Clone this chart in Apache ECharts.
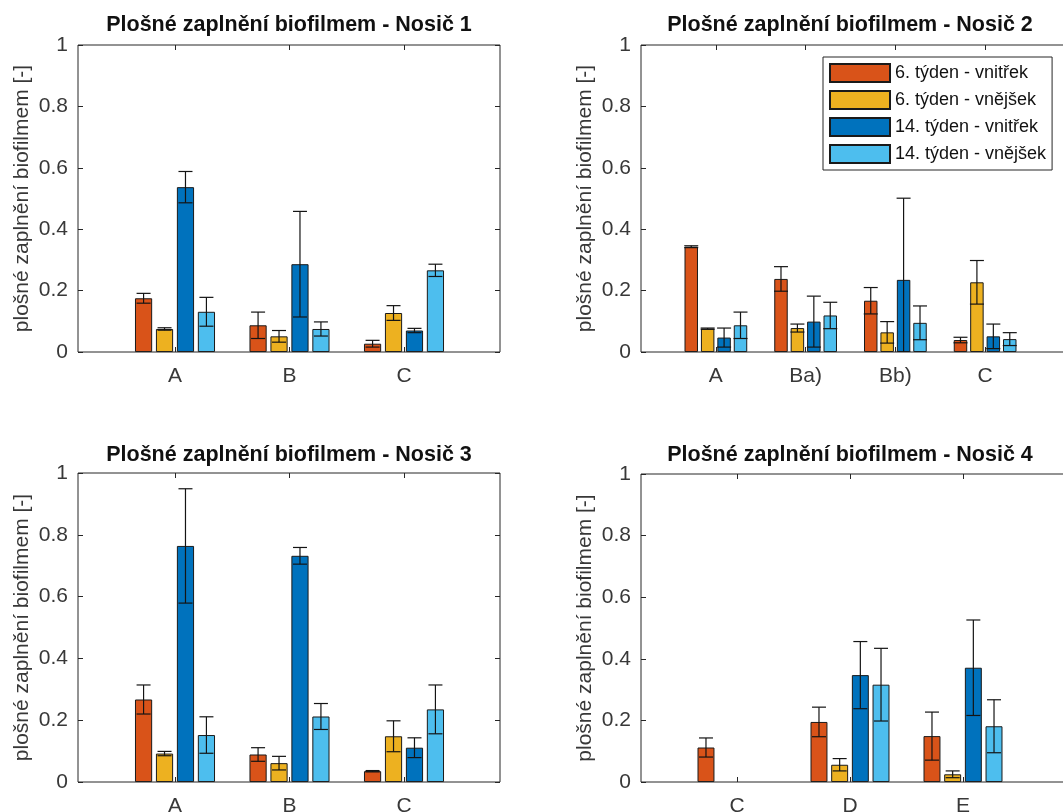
<!DOCTYPE html>
<html>
<head>
<meta charset="utf-8">
<script src="https://cdn.jsdelivr.net/npm/echarts@6/dist/echarts.min.js"></script>
<style>
html,body{margin:0;padding:0;background:#fff;}
#c{width:1063px;height:812px;}
</style>
</head>
<body>
<div id="c"></div>
<script>
// ---------- DATA ----------
const seriesNames = ['6. týden - vnitřek', '6. týden - vnějšek', '14. týden - vnitřek', '14. týden - vnějšek'];
const titles = ['Plošné zaplnění biofilmem - Nosič 1', 'Plošné zaplnění biofilmem - Nosič 2',
                'Plošné zaplnění biofilmem - Nosič 3', 'Plošné zaplnění biofilmem - Nosič 4'];
const yAxisName = 'plošné zaplnění biofilmem [-]';

const categories1 = ['A', 'B', 'C'];
const categories2 = ['A', 'Ba)', 'Bb)', 'C'];
const categories3 = ['A', 'B', 'C'];
const categories4 = ['C', 'D', 'E'];

// rows: series (6 in, 6 out, 14 in, 14 out); columns: categories
const p1Mean = [[0.175, 0.087, 0.027], [0.075, 0.051, 0.127], [0.537, 0.286, 0.070], [0.131, 0.075, 0.266]];
const p1Err  = [[0.016, 0.043, 0.011], [0.004, 0.019, 0.024], [0.051, 0.172, 0.007], [0.047, 0.023, 0.020]];

const p2Mean = [[0.343, 0.238, 0.167, 0.039], [0.076, 0.078, 0.064, 0.227], [0.047, 0.099, 0.235, 0.051], [0.087, 0.119, 0.095, 0.042]];
const p2Err  = [[0.003, 0.040, 0.043, 0.009], [0.002, 0.013, 0.035, 0.071], [0.031, 0.083, 0.266, 0.040], [0.043, 0.043, 0.055, 0.021]];

const p3Mean = [[0.267, 0.089, 0.035], [0.092, 0.061, 0.148], [0.764, 0.732, 0.111], [0.152, 0.212, 0.235]];
const p3Err  = [[0.047, 0.022, 0.002], [0.007, 0.022, 0.050], [0.185, 0.027, 0.032], [0.059, 0.042, 0.079]];

const p4Mean = [[0.112, 0.195, 0.149], [null, 0.056, 0.025], [null, 0.347, 0.371], [null, 0.316, 0.181]];
const p4Err  = [[0.031, 0.048, 0.078], [null, 0.020, 0.011], [null, 0.109, 0.155], [null, 0.118, 0.086]];

const yTicks = [0, 0.2, 0.4, 0.6, 0.8, 1];

// ---------- STYLE / LAYOUT ----------
const colors = ['#D95319', '#EDB120', '#0072BD', '#4DBEEE'];
const FONT = '"Liberation Sans", Arial, Helvetica, sans-serif';
const TXT = '#383838';
const BAR_W = 0.15, BAR_GAP = 0.22;
const PITCH = BAR_W * (1 + BAR_GAP);

const panels = [
  {outer:{left:78, top:45, width:422, height:307}, inner:{left:117.75, width:343.5}, tx:289, ty:14, cats:categories1, mean:p1Mean, err:p1Err},
  {outer:{left:641, top:45, width:440, height:307}, inner:{left:671, width:359}, tx:850, ty:14, cats:categories2, mean:p2Mean, err:p2Err},
  {outer:{left:78, top:473, width:422, height:309}, inner:{left:117.75, width:343.5}, tx:289, ty:444, cats:categories3, mean:p3Mean, err:p3Err},
  {outer:{left:641, top:474, width:440, height:308}, inner:{left:680.5, width:339}, tx:850, ty:444, cats:categories4, mean:p4Mean, err:p4Err}
];

const grid = [], xAxis = [], yAxis = [], series = [], title = [];

panels.forEach((p, k) => {
  const og = grid.length;
  grid.push({left:p.outer.left, top:p.outer.top, width:p.outer.width, height:p.outer.height,
             outerBoundsMode:'none', containLabel:false,
             show:true, borderColor:'#262626', borderWidth:1, backgroundColor:'transparent', z:3});
  const ig = grid.length;
  grid.push({left:p.inner.left, top:p.outer.top, width:p.inner.width, height:p.outer.height,
             outerBoundsMode:'none', containLabel:false});

  // outer axes (frame, y ticks)
  xAxis.push({gridIndex:og, type:'value', min:0, max:1, show:false});
  yAxis.push({gridIndex:og, type:'value', min:yTicks[0], max:yTicks[yTicks.length-1], interval:0.2,
    axisLine:{show:false}, splitLine:{show:false},
    axisTick:{show:true, inside:true, length:5, lineStyle:{color:'#262626'}},
    axisLabel:{fontSize:21, color:TXT, fontFamily:FONT, margin:10},
    name:yAxisName, nameLocation:'middle', nameGap:45,
    nameTextStyle:{fontSize:21, color:TXT, fontFamily:FONT}});
  yAxis.push({gridIndex:og, type:'value', position:'right', min:0, max:1, interval:0.2,
    axisLine:{show:false}, splitLine:{show:false}, axisLabel:{show:false},
    axisTick:{show:true, inside:true, length:5, lineStyle:{color:'#262626'}}});

  // inner axes (categories, bars)
  const ixi = xAxis.length;
  xAxis.push({gridIndex:ig, type:'category', data:p.cats, position:'bottom',
    axisLine:{show:false}, splitLine:{show:false},
    axisTick:{show:true, inside:true, alignWithLabel:true, length:5, lineStyle:{color:'#262626'}},
    axisLabel:{fontSize:21, color:TXT, fontFamily:FONT, margin:14}});
  xAxis.push({gridIndex:ig, type:'category', data:p.cats, position:'top',
    axisLine:{show:false}, axisLabel:{show:false},
    axisTick:{show:true, inside:true, alignWithLabel:true, length:5, lineStyle:{color:'#262626'}}});
  const iyi = yAxis.length;
  yAxis.push({gridIndex:ig, type:'value', min:0, max:1, show:false});

  title.push({text:titles[k], left:p.tx, top:p.ty, textAlign:'center', padding:0,
    textStyle:{fontSize:21.5, fontWeight:'bold', color:'#111', fontFamily:FONT}});

  for (let s = 0; s < 4; s++) {
    series.push({type:'bar', name:seriesNames[s], xAxisIndex:ixi, yAxisIndex:iyi,
      data:p.mean[s], barWidth:(BAR_W*100)+'%', barGap:(BAR_GAP*100)+'%',
      itemStyle:{color:colors[s], borderColor:'#1a1a1a', borderWidth:1}, silent:true, z:2});
  }
  for (let s = 0; s < 4; s++) {
    const data = [];
    p.mean[s].forEach((v, i) => { if (v != null && p.err[s][i] != null) data.push([i, v, p.err[s][i]]); });
    const off = (s - 1.5) * PITCH;
    series.push({type:'custom', name:seriesNames[s], xAxisIndex:ixi, yAxisIndex:iyi, data:data,
      silent:true, z:4, clip:true, encode:{x:0, y:1},
      renderItem:function(params, api){
        const ci = api.value(0), v = api.value(1), e = api.value(2);
        const band = api.size([1, 0])[0];
        const x = api.coord([ci, v])[0] + off * band;
        const yt = api.coord([ci, v + e])[1];
        const yb = api.coord([ci, Math.max(0, v - e)])[1];
        const h = 7;
        const st = {stroke:'#141414', lineWidth:1.2};
        return {type:'group', children:[
          {type:'line', shape:{x1:x, y1:yt, x2:x, y2:yb}, style:st},
          {type:'line', shape:{x1:x-h, y1:yt, x2:x+h, y2:yt}, style:st},
          {type:'line', shape:{x1:x-h, y1:yb, x2:x+h, y2:yb}, style:st}
        ]};
      }});
  }
});

const option = {
  animation:false,
  backgroundColor:'#ffffff',
  title:title,
  grid:grid, xAxis:xAxis, yAxis:yAxis, series:series,
  legend:{data:seriesNames, orient:'vertical', left:823, top:57, icon:'rect',
    itemWidth:60, itemHeight:18, itemGap:7, selectedMode:false,
    padding:[6,6,6,6], borderColor:'#262626', borderWidth:1, backgroundColor:'#ffffff',
    textStyle:{fontSize:18, lineHeight:18, color:'#111', fontFamily:FONT}, z:10}
};

const chart = echarts.init(document.getElementById('c'), null, {renderer:'canvas'});
chart.setOption(option);
</script>
</body>
</html>
